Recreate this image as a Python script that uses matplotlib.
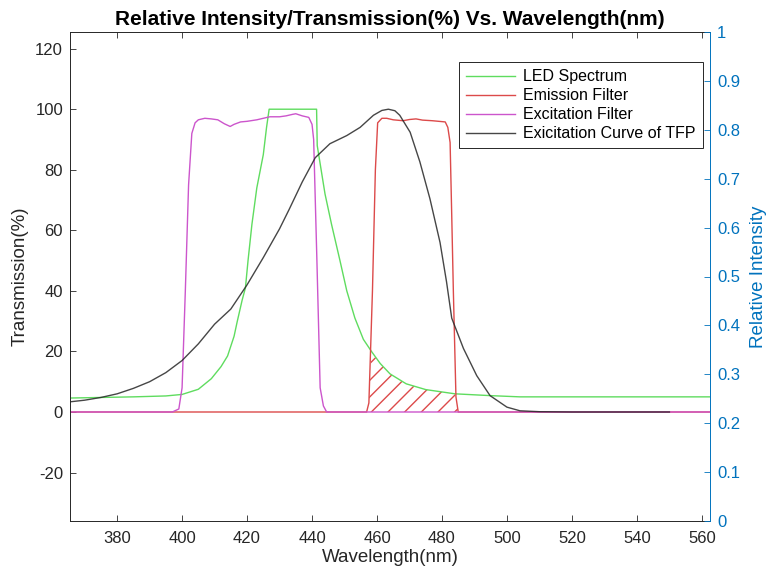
import numpy as np
import matplotlib
matplotlib.use('Agg')
import matplotlib.pyplot as plt
from matplotlib.ticker import FuncFormatter

# values (wavelength in nm, value in %)
led_wl = [365, 375, 385, 395, 400, 405, 409, 412, 414, 416, 417, 418.5, 419.5, 420.3,
          421.5, 423, 425, 426, 426.8, 441.4, 441.6, 442.5, 444, 446, 448.6, 450.7,
          453.2, 455.8, 458.3, 461, 464, 469, 475, 484, 495, 504, 520, 540, 562.5]
led_val = [4.6, 4.8, 5.0, 5.3, 5.8, 7.5, 11, 15, 18.5, 25, 30, 37, 41, 50,
           62, 74, 85, 94, 100, 100, 88, 82, 72, 62, 50, 40,
           31, 24, 20, 16, 12.6, 9.3, 7.4, 6, 5.4, 5, 5, 5, 5]

em_wl = [365, 456.8, 457.5, 458.6, 459.5, 460.2, 461.5, 463, 465, 468, 470, 472, 474,
         477, 479, 481, 481.8, 482.5, 483, 483.5, 484.3, 485, 562.5]
em_val = [0, 0, 3, 40, 80, 95.5, 97, 97, 96.5, 96.2, 96.6, 96.8, 96.4,
          96.2, 96, 95.8, 94, 89, 65, 40, 5, 0, 0]

ex_wl = [365, 397, 399, 400, 401, 402, 403, 404, 405, 407, 409, 411, 413, 414.8, 416,
         418, 420, 423, 425, 427, 430, 432, 434, 435, 437, 439, 440, 440.5, 441.5,
         442.5, 443.5, 444.5, 562.5]
ex_val = [0, 0, 1, 8, 40, 75, 92, 95.5, 96.5, 97, 96.8, 96.5, 95.2, 94.3, 95,
          95.8, 96, 96.5, 97, 97.5, 97.5, 97.8, 98.3, 98.5, 97.8, 97.3, 95, 90, 50,
          8, 2, 0, 0]

tfp_wl = [365, 370, 375, 380, 385, 390, 395, 400, 405, 410, 415, 420, 425, 430, 433,
          437, 441, 445.5, 450.7, 454.8, 458.9, 461.5, 463.5, 465.5, 467, 470.2,
          473.2, 476.3, 479.4, 481.4, 483, 486.6, 490.7, 494.8, 500, 504, 510, 520, 550]
tfp_val = [3.3, 3.9, 4.8, 6, 7.8, 10, 13, 17, 22.5, 29, 34, 42, 51, 60.5, 67,
           76, 84, 88.6, 91.3, 94, 98, 99.6, 100, 99.5, 98, 92.4,
           82.6, 70.4, 56, 43, 31, 21, 12, 5.4, 1.6, 0.4, 0.1, 0, 0]

x_ticks = [380, 400, 420, 440, 460, 480, 500, 520, 540, 560]
y_ticks = [-20, 0, 20, 40, 60, 80, 100, 120]
y2_ticks = [0, 0.1, 0.2, 0.3, 0.4, 0.5, 0.6, 0.7, 0.8, 0.9, 1]

c_green = '#5fdc5f'
c_red = '#dc4a4a'
c_mag = '#cc55cc'
c_blk = '#262626'
c_blue = '#0072BD'
c_axis = '#262626'

plt.rcParams['font.family'] = ['Liberation Sans', 'DejaVu Sans']
plt.rcParams['axes.unicode_minus'] = False

fig = plt.figure(figsize=(7.69, 5.78), dpi=100)
ax = fig.add_axes([70 / 769, 1 - 521 / 578, 640 / 769, 489 / 578])

ax.plot(led_wl, led_val, color=c_green, lw=1.0, label='LED Spectrum')
ax.plot(em_wl, em_val, color=c_red, lw=1.0, label='Emission Filter')
ax.plot(ex_wl, ex_val, color=c_mag, lw=1.0, label='Excitation Filter')
ax.plot(tfp_wl, tfp_val, color=c_blk, lw=1.0, alpha=0.85, label='Exicitation Curve of TFP')

# hatched overlap of LED spectrum and emission filter
grid = np.array(sorted(set(w for w in led_wl + em_wl if 456 <= w <= 486)))
top = np.minimum(np.interp(grid, led_wl, led_val), np.interp(grid, em_wl, em_val))
ax.fill_between(grid, 0, top, facecolor='none', edgecolor=c_red, hatch='//', linewidth=0)

ax.set_xlim(365.5, 562.5)
ax.set_ylim(-36, 125.5)
ax.set_xticks(x_ticks)
ax.set_yticks(y_ticks)
ax.tick_params(axis='both', direction='in', length=4, width=0.6, colors=c_axis,
               labelsize=12, top=True, right=False, pad=5)
ax.tick_params(axis='x', pad=7)
for s in ['left', 'top', 'bottom']:
    ax.spines[s].set_color(c_axis)
    ax.spines[s].set_linewidth(0.7)
ax.spines['right'].set_visible(False)

ax.set_xlabel('Wavelength(nm)', fontsize=13.5, color=c_axis, labelpad=2)
ax.set_ylabel('Transmission(%)', fontsize=13.5, color=c_axis, labelpad=5)
ax.set_title('Relative Intensity/Transmission(%) Vs. Wavelength(nm)',
             fontsize=15, fontweight='bold', color='black', pad=5)

leg = ax.legend(loc='upper right', bbox_to_anchor=((703 - 70) / 640, (521 - 62) / 489),
                borderaxespad=0, fontsize=11.5, handlelength=3.1, frameon=True,
                fancybox=False, framealpha=1, edgecolor=c_axis, labelspacing=0.25,
                borderpad=0.45, handletextpad=0.5)
leg.get_frame().set_linewidth(0.7)

ax2 = ax.twinx()
ax2.set_ylim(0, 1)
ax2.set_yticks(y2_ticks)
ax2.yaxis.set_major_formatter(FuncFormatter(lambda v, p: '%g' % v))
ax2.tick_params(axis='y', direction='in', length=4, width=0.6, colors=c_blue,
                labelsize=12, pad=5)
for s in ['left', 'top', 'bottom']:
    ax2.spines[s].set_visible(False)
ax2.spines['right'].set_color(c_blue)
ax2.spines['right'].set_linewidth(0.7)
ax2.set_ylabel('Relative Intensity', fontsize=13.5, color=c_blue, labelpad=7)

fig.savefig('out.png', dpi=100)
